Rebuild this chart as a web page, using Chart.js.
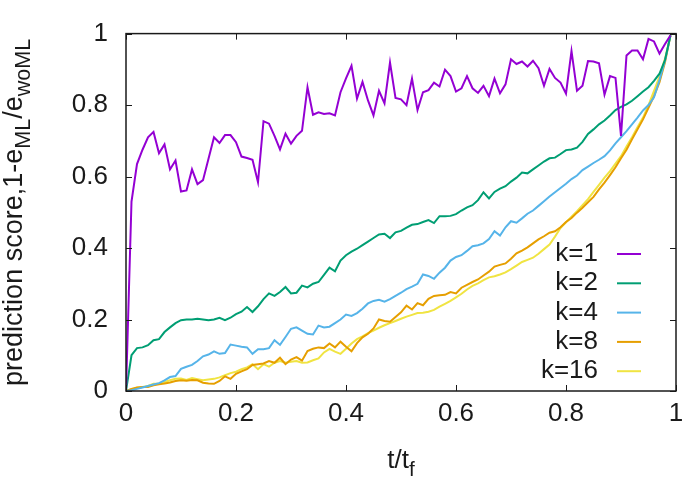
<!DOCTYPE html>
<html>
<head>
<meta charset="utf-8">
<script src="https://cdn.jsdelivr.net/npm/chart.js@4.4.0/dist/chart.umd.min.js"></script>
<style>
  html, body { margin: 0; padding: 0; background: #fff; }
  #chart { display: block; }
</style>
</head>
<body>
<canvas id="chart" width="696" height="482"></canvas>
<script>
// sampling times t/t_f
const tValues = [
  0.00, 0.01, 0.02, 0.03, 0.04, 0.05, 0.06, 0.07, 0.08, 0.09,
  0.10, 0.11, 0.12, 0.13, 0.14, 0.15, 0.16, 0.17, 0.18, 0.19,
  0.20, 0.21, 0.22, 0.23, 0.24, 0.25, 0.26, 0.27, 0.28, 0.29,
  0.30, 0.31, 0.32, 0.33, 0.34, 0.35, 0.36, 0.37, 0.38, 0.39,
  0.40, 0.41, 0.42, 0.43, 0.44, 0.45, 0.46, 0.47, 0.48, 0.49,
  0.50, 0.51, 0.52, 0.53, 0.54, 0.55, 0.56, 0.57, 0.58, 0.59,
  0.60, 0.61, 0.62, 0.63, 0.64, 0.65, 0.66, 0.67, 0.68, 0.69,
  0.70, 0.71, 0.72, 0.73, 0.74, 0.75, 0.76, 0.77, 0.78, 0.79,
  0.80, 0.81, 0.82, 0.83, 0.84, 0.85, 0.86, 0.87, 0.88, 0.89,
  0.90, 0.91, 0.92, 0.93, 0.94, 0.95, 0.96, 0.97, 0.98, 0.99
];

const k1 = [
  0, 0.53, 0.635, 0.675, 0.71, 0.725, 0.665, 0.69, 0.62, 0.645,
  0.558, 0.561, 0.62, 0.579, 0.59, 0.65, 0.71, 0.694, 0.716, 0.716,
  0.696, 0.656, 0.652, 0.647, 0.584, 0.755, 0.748, 0.714, 0.676, 0.72,
  0.692, 0.714, 0.728, 0.85, 0.773, 0.78, 0.775, 0.777, 0.771, 0.836,
  0.875, 0.91, 0.818, 0.865, 0.813, 0.771, 0.84, 0.805, 0.919, 0.82,
  0.816, 0.8, 0.874, 0.786, 0.836, 0.842, 0.863, 0.852, 0.899, 0.881,
  0.838, 0.847, 0.881, 0.847, 0.834, 0.854, 0.825, 0.874, 0.833, 0.858,
  0.928, 0.915, 0.922, 0.908, 0.924, 0.903, 0.854, 0.901, 0.876, 0.863,
  0.832, 0.951, 0.84, 0.854, 0.923, 0.922, 0.917, 0.829, 0.881, 0.876,
  0.714, 0.939, 0.953, 0.953, 0.928, 0.985, 0.978, 0.944, 0.971, 0.995
];

const k2 = [
  0, 0.10, 0.12, 0.122, 0.128, 0.142, 0.145, 0.165, 0.178, 0.19,
  0.198, 0.2, 0.2, 0.202, 0.2, 0.198, 0.2, 0.205, 0.198, 0.205,
  0.215, 0.222, 0.235, 0.221, 0.237, 0.257, 0.273, 0.266, 0.277, 0.291,
  0.273, 0.275, 0.295, 0.29, 0.30, 0.305, 0.325, 0.345, 0.335, 0.365,
  0.38, 0.39, 0.398, 0.408, 0.418, 0.428, 0.438, 0.44, 0.428, 0.444,
  0.448, 0.457, 0.465, 0.467, 0.473, 0.478, 0.47, 0.489, 0.489, 0.49,
  0.495, 0.505, 0.514, 0.52, 0.534, 0.556, 0.539, 0.557, 0.566, 0.573,
  0.586, 0.597, 0.611, 0.609, 0.62, 0.631, 0.642, 0.651, 0.653, 0.663,
  0.674, 0.676, 0.681, 0.697, 0.719, 0.732, 0.746, 0.757, 0.771, 0.786,
  0.795, 0.802, 0.812, 0.825, 0.838, 0.85, 0.868, 0.888, 0.926, 0.995
];

const k4 = [
  0, 0.002, 0.006, 0.01, 0.014, 0.018, 0.022, 0.03, 0.039, 0.042,
  0.062, 0.068, 0.073, 0.084, 0.097, 0.102, 0.111, 0.104, 0.106, 0.13,
  0.127, 0.124, 0.122, 0.104, 0.117, 0.117, 0.12, 0.142, 0.129, 0.151,
  0.174, 0.178, 0.169, 0.16, 0.158, 0.183, 0.178, 0.18, 0.19, 0.2,
  0.214, 0.21, 0.218, 0.23, 0.245, 0.252, 0.255, 0.25, 0.257, 0.266,
  0.275, 0.285, 0.292, 0.3, 0.326, 0.322, 0.314, 0.331, 0.345, 0.365,
  0.375, 0.38, 0.392, 0.405, 0.408, 0.413, 0.425, 0.447, 0.435, 0.458,
  0.475, 0.471, 0.483, 0.496, 0.505, 0.518, 0.531, 0.544, 0.556, 0.568,
  0.58, 0.593, 0.603, 0.618, 0.628, 0.638, 0.647, 0.657, 0.673, 0.693,
  0.71, 0.727, 0.746, 0.765, 0.785, 0.80, 0.822, 0.87, 0.925, 0.995
];

const k8 = [
  0, 0.006, 0.01, 0.011, 0.011, 0.016, 0.019, 0.021, 0.024, 0.028,
  0.03, 0.029, 0.031, 0.03, 0.023, 0.021, 0.02, 0.028, 0.041, 0.034,
  0.048, 0.055, 0.061, 0.073, 0.075, 0.077, 0.084, 0.079, 0.093, 0.075,
  0.088, 0.095, 0.085, 0.112, 0.118, 0.122, 0.12, 0.133, 0.122, 0.138,
  0.124, 0.111, 0.134, 0.15, 0.16, 0.175, 0.2, 0.196, 0.194, 0.207,
  0.22, 0.239, 0.228, 0.246, 0.24, 0.258, 0.266, 0.268, 0.269, 0.277,
  0.273, 0.289, 0.297, 0.305, 0.312, 0.323, 0.334, 0.348, 0.353, 0.357,
  0.37, 0.385, 0.393, 0.402, 0.413, 0.424, 0.433, 0.443, 0.447, 0.458,
  0.473, 0.484, 0.499, 0.513, 0.528, 0.543, 0.564, 0.583, 0.604, 0.626,
  0.651, 0.675, 0.704, 0.732, 0.76, 0.792, 0.825, 0.864, 0.92, 0.995
];

const k16 = [
  0, 0.005, 0.009, 0.011, 0.014, 0.02, 0.021, 0.025, 0.03, 0.034,
  0.035, 0.031, 0.036, 0.033, 0.03, 0.032, 0.034, 0.038, 0.044, 0.05,
  0.054, 0.061, 0.066, 0.075, 0.061, 0.075, 0.068, 0.079, 0.084, 0.079,
  0.082, 0.084, 0.079, 0.08, 0.086, 0.091, 0.108, 0.118, 0.11, 0.104,
  0.118, 0.133, 0.145, 0.153, 0.162, 0.169, 0.177, 0.184, 0.19, 0.196,
  0.202, 0.208, 0.213, 0.218, 0.219, 0.222, 0.227, 0.236, 0.244, 0.252,
  0.262, 0.272, 0.284, 0.294, 0.301, 0.31, 0.318, 0.321, 0.326, 0.332,
  0.341, 0.351, 0.361, 0.367, 0.373, 0.384, 0.397, 0.41, 0.432, 0.456,
  0.472, 0.488, 0.503, 0.52, 0.537, 0.557, 0.577, 0.597, 0.615, 0.636,
  0.657, 0.684, 0.71, 0.738, 0.765, 0.8, 0.84, 0.88, 0.93, 0.995
];

const seriesLabels = ['k=1', 'k=2', 'k=4', 'k=8', 'k=16'];
const seriesValues = [k1, k2, k4, k8, k16];
const seriesColors = ['#9400d3', '#009e73', '#56b4e9', '#e69f00', '#f0e442'];
const xTicks = [0, 0.2, 0.4, 0.6, 0.8, 1];
const yTicks = [0, 0.2, 0.4, 0.6, 0.8, 1];

const FONT = "'Liberation Sans', Arial, Helvetica, sans-serif";
const TEXT = '#1a1a1a';

// draw a run of [text, isSubscript] pieces starting at x, baseline y
function drawRich(ctx, parts, x, y, size) {
  parts.forEach(([txt, sub]) => {
    const s = sub ? size * 0.8 : size;
    ctx.font = `${s}px ${FONT}`;
    ctx.fillText(txt, x, sub ? y + size * 0.3 : y);
    x += ctx.measureText(txt).width;
  });
}
function richWidth(ctx, parts, size) {
  return parts.reduce((w, [txt, sub]) => {
    ctx.font = `${sub ? size * 0.8 : size}px ${FONT}`;
    return w + ctx.measureText(txt).width;
  }, 0);
}

// gnuplot-like frame, inward ticks, axis titles and legend
const gnuplotLook = {
  id: 'gnuplotLook',
  afterDraw(chart) {
    const ctx = chart.ctx;
    const { left, right, top, bottom } = chart.chartArea;
    const xs = chart.scales.x, ys = chart.scales.y;
    const tick = 6;

    ctx.save();
    ctx.strokeStyle = TEXT;
    ctx.lineWidth = 1;
    xTicks.forEach(v => {
      const px = Math.round(xs.getPixelForValue(v)) + 0.5;
      ctx.beginPath();
      ctx.moveTo(px, bottom); ctx.lineTo(px, bottom - tick);
      ctx.moveTo(px, top); ctx.lineTo(px, top + tick);
      ctx.stroke();
    });
    yTicks.forEach(v => {
      const py = Math.round(ys.getPixelForValue(v)) + 0.5;
      ctx.beginPath();
      ctx.moveTo(left, py); ctx.lineTo(left + tick, py);
      ctx.moveTo(right, py); ctx.lineTo(right - tick, py);
      ctx.stroke();
    });
    ctx.lineWidth = 1.5;
    ctx.strokeRect(left, top, right - left, bottom - top);

    ctx.fillStyle = TEXT;
    ctx.textAlign = 'left';
    ctx.textBaseline = 'alphabetic';

    // x title
    const xParts = [['t/t', false], ['f', true]];
    const xw = richWidth(ctx, xParts, 26);
    drawRich(ctx, xParts, (left + right) / 2 - xw / 2, 468, 26);

    // y title, rotated
    const yParts = [['prediction score,1-e', false], ['ML', true], ['/e', false], ['woML', true]];
    const yw = richWidth(ctx, yParts, 27);
    ctx.save();
    ctx.translate(22, (top + bottom) / 2 + yw / 2);
    ctx.rotate(-Math.PI / 2);
    drawRich(ctx, yParts, 0, 0, 27);
    ctx.restore();

    // legend
    ctx.font = `26px ${FONT}`;
    ctx.textAlign = 'right';
    ctx.textBaseline = 'middle';
    ctx.lineWidth = 2;
    chart.data.datasets.forEach((ds, i) => {
      const y = 254 + i * 29.3;
      ctx.fillText(ds.label, 598, y);
      ctx.strokeStyle = ds.borderColor;
      ctx.beginPath();
      ctx.moveTo(617, y); ctx.lineTo(641, y);
      ctx.stroke();
    });
    ctx.restore();
  }
};

const datasets = seriesLabels.map((label, i) => ({
  label: label,
  data: tValues.map((t, j) => ({ x: t, y: seriesValues[i][j] })),
  borderColor: seriesColors[i],
  backgroundColor: seriesColors[i],
  borderWidth: 2,
  pointRadius: 0,
  tension: 0,
  fill: false
}));

new Chart(document.getElementById('chart').getContext('2d'), {
  type: 'line',
  data: { datasets: datasets },
  options: {
    responsive: false,
    animation: false,
    devicePixelRatio: 1,
    layout: { padding: { top: 21, right: 20, left: 0, bottom: 0 } },
    plugins: { legend: { display: false }, tooltip: { enabled: false } },
    scales: {
      x: {
        type: 'linear', min: 0, max: 1,
        grid: { display: false, drawTicks: false },
        border: { display: false },
        afterBuildTicks: s => { s.ticks = xTicks.map(v => ({ value: v })); },
        afterFit: s => { s.height = 91; },
        ticks: {
          padding: 7, color: TEXT, maxRotation: 0,
          font: { family: FONT, size: 26 },
          callback: v => String(+v.toFixed(1))
        }
      },
      y: {
        type: 'linear', min: 0, max: 1,
        grid: { display: false, drawTicks: false },
        border: { display: false },
        afterBuildTicks: s => { s.ticks = yTicks.map(v => ({ value: v })); },
        afterFit: s => { s.width = 126; },
        ticks: {
          padding: 18, color: TEXT,
          font: { family: FONT, size: 26 },
          callback: v => String(+v.toFixed(1))
        }
      }
    }
  },
  plugins: [gnuplotLook]
});
</script>
</body>
</html>
